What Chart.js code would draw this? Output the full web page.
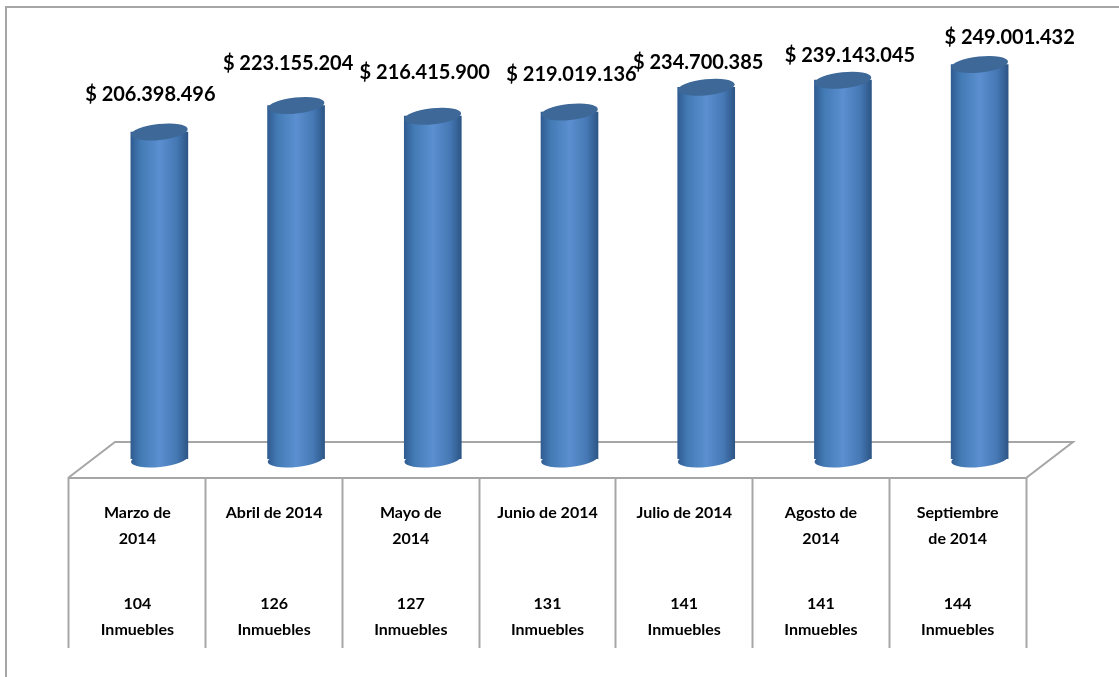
<!DOCTYPE html>
<html>
<head>
<meta charset="utf-8">
<title>Inmuebles</title>
<script src="https://cdn.jsdelivr.net/npm/chart.js@4"></script>
<style>
  html, body { margin: 0; padding: 0; background: #fff; }
  canvas { display: block; }
</style>
</head>
<body>
<canvas id="grafica" width="1119" height="677"></canvas>
<script>
const categorias = [
    ['Marzo de', '2014'],
    ['Abril de 2014', ''],
    ['Mayo de', '2014'],
    ['Junio de 2014', ''],
    ['Julio de 2014', ''],
    ['Agosto de', '2014'],
    ['Septiembre', 'de 2014']
];
const valores = [206398496, 223155204, 216415900, 219019136, 234700385, 239143045, 249001432];
const inmuebles = [104, 126, 127, 131, 141, 141, 144];

// desplazamiento de cada etiqueta respecto a la tapa de su barra
const etiquetaDx = [-9, -8, -8, 2, -8, 7, 30];
const etiquetaDy = [-38, -42, -44, -38, -25, -25, -27];

const GRIS = '#a6a6a6';
const FONDO_X = 22, FONDO_Y = -19; // profundidad 3D de las barras

function formato(v) {
    return '$ ' + String(v).replace(/\B(?=(\d{3})+$)/g, '.');
}

function degradado(ctx, x) {
    const g = ctx.createLinearGradient(x - 29, 0, x + 29, 0);
    g.addColorStop(0, '#2f5a8f');
    g.addColorStop(0.18, '#437bb5');
    g.addColorStop(0.5, '#5b8fd0');
    g.addColorStop(0.8, '#4578b4');
    g.addColorStop(1, '#2c5484');
    return g;
}

function elipse(ctx, x, y, relleno) {
    ctx.beginPath();
    ctx.ellipse(x, y, 28.5, 8, -6 * Math.PI / 180, 0, Math.PI * 2);
    ctx.fillStyle = relleno;
    ctx.fill();
}

function linea(ctx, puntos) {
    ctx.beginPath();
    puntos.forEach((p, i) => i ? ctx.lineTo(p[0], p[1]) : ctx.moveTo(p[0], p[1]));
    ctx.stroke();
}

const cilindros = {
    id: 'cilindros',
    beforeDraw(chart) {
        const ctx = chart.ctx;
        ctx.save();
        ctx.strokeStyle = GRIS;
        ctx.lineWidth = 2;
        linea(ctx, [[6, 677], [6, 7], [1119, 7]]);
        ctx.restore();
    },
    beforeDatasetsDraw(chart) {
        const ctx = chart.ctx, a = chart.chartArea;
        // suelo
        ctx.save();
        ctx.strokeStyle = GRIS;
        ctx.lineWidth = 2;
        linea(ctx, [[a.left - 1, a.bottom], [a.left + 46, a.bottom - 36], [a.right + 47, a.bottom - 36], [a.right, a.bottom], [a.left - 1, a.bottom]]);
        ctx.restore();

        ctx.save();
        ctx.translate(FONDO_X, FONDO_Y);
        chart.getDatasetMeta(0).data.forEach(b => elipse(ctx, b.x, b.base, degradado(ctx, b.x)));
    },
    afterDatasetsDraw(chart) {
        const ctx = chart.ctx;
        const barras = chart.getDatasetMeta(0).data;
        barras.forEach(b => elipse(ctx, b.x, b.y, '#3d6898'));
        ctx.restore();

        ctx.save();
        ctx.font = 'bold 20px Lato';
        ctx.fillStyle = '#000';
        ctx.textAlign = 'center';
        ctx.textBaseline = 'middle';
        barras.forEach((b, i) => {
            ctx.fillText(formato(valores[i]), b.x + FONDO_X + etiquetaDx[i], b.y + FONDO_Y + etiquetaDy[i]);
        });
        ctx.restore();
    }
};

new Chart(document.getElementById('grafica').getContext('2d'), {
    type: 'bar',
    data: {
        labels: categorias,
        datasets: [{
            data: valores,
            barThickness: 57,
            borderWidth: 0,
            backgroundColor: c => {
                const x = c.chart.scales.x ? c.chart.scales.x.getPixelForValue(c.dataIndex) : NaN;
                return Number.isFinite(x) ? degradado(c.chart.ctx, x) : '#4a7ebb';
            }
        }]
    },
    plugins: [cilindros],
    options: {
        responsive: false,
        animation: false,
        layout: { padding: { left: 69, right: 93, top: 21, bottom: 29 } },
        plugins: { legend: { display: false }, tooltip: { enabled: false } },
        scales: {
            y: { display: false, min: 0, max: 288500000 },
            x: {
                position: 'bottom',
                afterFit: s => { s.height = 85; },
                border: { display: false },
                grid: { drawOnChartArea: false, tickLength: 170, tickColor: GRIS, tickWidth: 2, offset: true },
                ticks: {
                    maxRotation: 0, autoSkip: false, padding: -148, color: '#000',
                    font: { family: 'Lato', weight: 'bold', size: 16, lineHeight: 1.625 }
                }
            },
            x2: {
                type: 'category',
                position: 'bottom',
                labels: inmuebles.map(n => [String(n), 'Inmuebles']),
                offset: true,
                afterFit: s => { s.height = 85; },
                border: { display: false },
                grid: { display: false },
                ticks: {
                    maxRotation: 0, autoSkip: false, padding: 20, color: '#000',
                    font: { family: 'Lato', weight: 'bold', size: 16, lineHeight: 1.625 }
                }
            }
        }
    }
});
</script>
</body>
</html>
